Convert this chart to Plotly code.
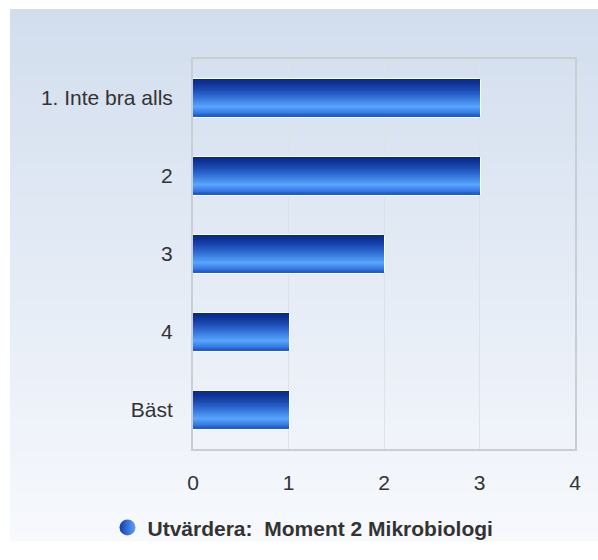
import plotly.graph_objects as go

# ---- data ----
categories = ["1. Inte bra alls", "2", "3", "4", "Bäst"]
values = [3, 3, 2, 1, 1]
x_tick_values = [0, 1, 2, 3, 4]
series_name = "Utvärdera:\u00a0 Moment 2 Mikrobiologi"

# ---- geometry / style ----
W, H = 598, 560
L, R, T, B = 193, 23, 59, 95
PW, PH = W - L - R, H - T - B
BAR_W = 0.48
FONT = "Liberation Sans, Arial, sans-serif"

bar_stops = [
    (0.00, (10, 40, 132)),
    (0.12, (14, 52, 150)),
    (0.40, (38, 95, 200)),
    (0.62, (72, 145, 238)),
    (0.74, (88, 165, 255)),
    (0.86, (62, 132, 232)),
    (1.00, (28, 90, 200)),
]


def interp(stops, t):
    for (t0, c0), (t1, c1) in zip(stops, stops[1:]):
        if t <= t1:
            f = 0 if t1 == t0 else (t - t0) / (t1 - t0)
            return "rgb(%d,%d,%d)" % tuple(round(a + (b - a) * f) for a, b in zip(c0, c1))
    return "rgb(%d,%d,%d)" % stops[-1][1]


fig = go.Figure()

# white outline base bar
fig.add_trace(go.Bar(
    y=categories, x=values, orientation="h", width=BAR_W, offset=-BAR_W / 2,
    marker=dict(color="white", line=dict(color="white", width=2), cornerradius=3),
    showlegend=False, hoverinfo="skip",
))

# gradient strips
N = 40
dw = BAR_W / N
for i in range(N):
    off = -BAR_W / 2 + i * dw
    fig.add_trace(go.Bar(
        y=categories, x=values, orientation="h",
        offset=off, width=BAR_W - i * dw,
        marker=dict(color=interp(bar_stops, (i + 0.5) / N), line=dict(width=0)),
        showlegend=False, hoverinfo="skip" if i else "x+y",
    ))

# legend entry
fig.add_trace(go.Scatter(
    x=[None], y=[None], mode="markers", name=series_name,
    marker=dict(symbol="circle", size=16, color="rgb(20,60,170)",
                gradient=dict(type="horizontal", color="rgb(95,160,255)")),
))

# background gradient stripes (paper coords)
bg_top, bg_bot = (210, 222, 238), (247, 249, 253)
y_start, y_end = 7, H
step = 7
py = y_start
shapes = []
while py < y_end:
    t = (py - y_start) / (y_end - y_start)
    col = "rgb(%d,%d,%d)" % tuple(round(a + (b - a) * t) for a, b in zip(bg_top, bg_bot))
    shapes.append(dict(
        type="rect", xref="paper", yref="paper", layer="below",
        x0=(10 - L) / PW, x1=(W + 5 - L) / PW,
        y0=(H - B - min(py + step + 1, y_end + 5)) / PH, y1=(H - B - py) / PH,
        fillcolor=col, line=dict(width=0),
    ))
    py += step

fig.update_layout(
    width=W, height=H,
    margin=dict(l=L, r=R, t=T, b=B, pad=0),
    paper_bgcolor="white", plot_bgcolor="rgba(0,0,0,0)",
    barmode="overlay", bargap=0,
    shapes=shapes,
    font=dict(family=FONT, size=21, color="#333333"),
    showlegend=True,
    legend=dict(
        orientation="h", x=(303 - L) / PW, xanchor="center",
        y=(H - B - 547) / PH, yanchor="middle",
        font=dict(family=FONT, size=21, color="#333333", weight="bold"),
        bgcolor="rgba(0,0,0,0)",
    ),
    xaxis=dict(
        range=[0, 4], tickvals=x_tick_values, showgrid=True,
        gridcolor="#DFE1E5", gridwidth=1, zeroline=False,
        showline=True, mirror=True, linecolor="#CBCDD0", linewidth=2,
        ticks="", ticklabelstandoff=14,
        tickfont=dict(family=FONT, size=21, color="#333333"),
    ),
    yaxis=dict(
        type="category", categoryorder="array", categoryarray=categories,
        autorange="reversed", showgrid=False, zeroline=False,
        showline=True, mirror=True, linecolor="#CBCDD0", linewidth=2,
        ticks="", ticklabelstandoff=14,
        tickfont=dict(family=FONT, size=21, color="#333333"),
    ),
)

fig.write_html(
    "out.html",
    config={"displayModeBar": False},
    post_script="document.body.style.margin='0';document.body.style.overflow='hidden';",
)
